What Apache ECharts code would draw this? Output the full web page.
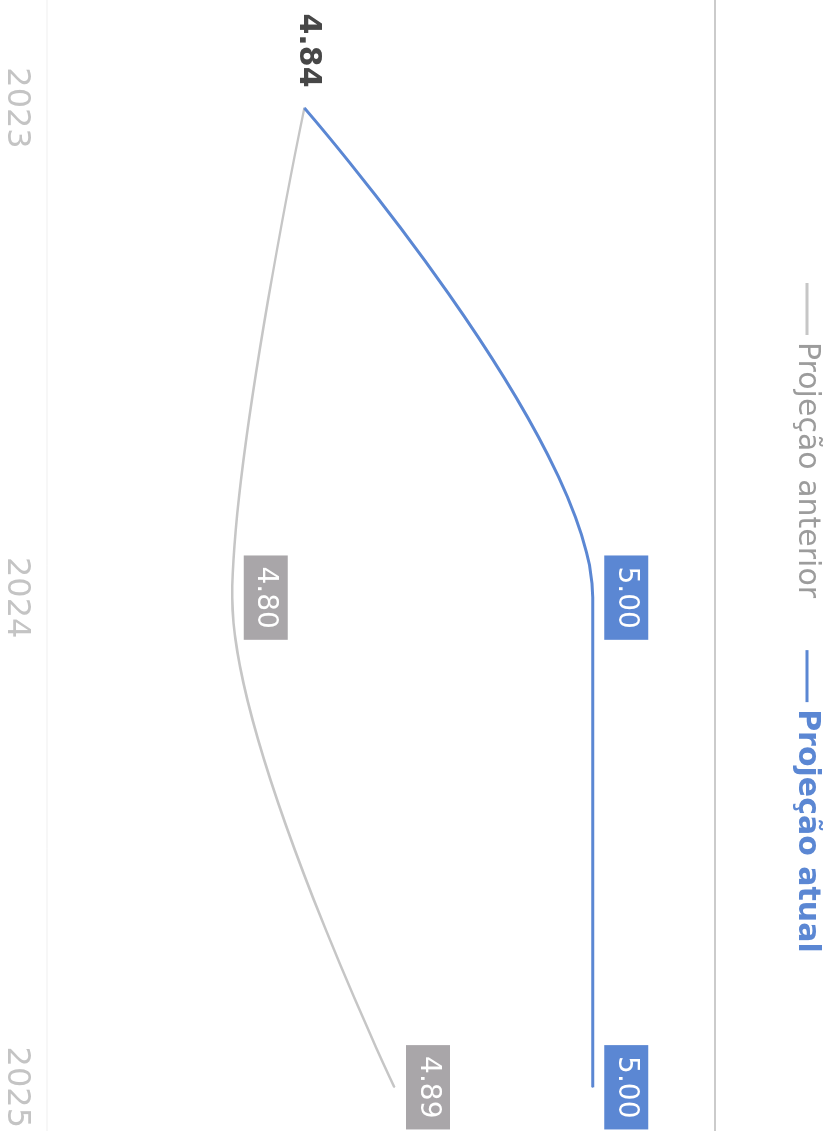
<!DOCTYPE html>
<html lang="pt">
<head>
  <meta charset="UTF-8">
  <title>Projeção</title>
  <script src="https://cdn.jsdelivr.net/npm/echarts@6/dist/echarts.min.js"></script>
  <style>
    html, body {
      margin: 0;
      padding: 0;
      width: 835px;
      height: 1131px;
      overflow: hidden;
      background: #fff;
    }
    /* o gráfico é desenhado deitado e depois girado 90° no sentido horário */
    #chart {
      position: absolute;
      top: 0;
      left: 0;
      width: 1131px;
      height: 835px;
      transform-origin: 0 0;
      transform: translateX(835px) rotate(90deg);
    }
  </style>
</head>
<body>
  <div id="chart"></div>

  <script>
    const anos = ['2023', '2024', '2025'];
    const projecaoAnterior = [4.84, 4.80, 4.89];
    const projecaoAtual = [4.84, 5.00, 5.00];

    const AZUL = '#5b87d3';
    const CINZA = '#c6c6c6';
    const CINZA_CAIXA = '#a9a6a9';

    const chart = echarts.init(document.getElementById('chart'), null, { width: 1131, height: 835 });

    const rotuloCaixa = cor => ({
      show: true,
      position: 'top',
      distance: 11,
      backgroundColor: cor,
      color: '#fff',
      fontSize: 28,
      lineHeight: 32,
      padding: [6, 11],
      formatter: p => p.value.toFixed(2)
    });

    chart.setOption({
      backgroundColor: '#fff',
      textStyle: { fontFamily: '"DejaVu Sans", sans-serif' },
      animation: false,
      legend: {
        left: 283,
        top: 13,
        padding: 0,
        icon: 'rect',
        itemWidth: 52,
        itemHeight: 3,
        itemGap: 52,
        textStyle: { fontSize: 30, padding: [0, 0, 0, 2] },
        data: [
          { name: 'Projeção anterior', itemStyle: { color: CINZA }, textStyle: { color: '#9c9c9c' } },
          { name: 'Projeção atual', itemStyle: { color: AZUL }, textStyle: { color: AZUL, fontWeight: 'bold' } }
        ]
      },
      graphic: [
        { type: 'line', shape: { x1: 0, y1: 120, x2: 1131, y2: 120 }, style: { stroke: '#cbcbcb', lineWidth: 2 } },
        { type: 'line', shape: { x1: 0, y1: 788, x2: 1131, y2: 788 }, style: { stroke: '#efefef', lineWidth: 1 } }
      ],
      grid: { left: 108, right: 36, top: 62, bottom: 47 },
      xAxis: {
        type: 'category',
        data: anos,
        boundaryGap: false,
        axisLine: { show: false },
        axisTick: { show: false },
        axisLabel: { fontSize: 32, color: '#c4c4c4', margin: 20 }
      },
      yAxis: {
        type: 'value',
        min: 4.7,
        max: 5.1,
        show: false,
        splitLine: { show: false }
      },
      series: [
        {
          name: 'Projeção anterior',
          type: 'line',
          smooth: 0.3,
          symbol: 'circle',
          symbolSize: 1,
          lineStyle: { color: CINZA, width: 2.5 },
          itemStyle: { color: CINZA },
          label: rotuloCaixa(CINZA_CAIXA),
          data: projecaoAnterior.map((v, i) => i === 0 ? {
            value: v,
            label: {
              position: 'left',
              distance: 20,
              offset: [0, -3],
              backgroundColor: 'transparent',
              color: '#474747',
              fontWeight: 'bold',
              fontSize: 30,
              padding: 0
            }
          } : v)
        },
        {
          name: 'Projeção atual',
          type: 'line',
          smooth: 0.3,
          symbol: 'circle',
          symbolSize: 1,
          lineStyle: { color: AZUL, width: 3 },
          itemStyle: { color: AZUL },
          label: rotuloCaixa(AZUL),
          data: projecaoAtual.map((v, i) => i === 0 ? { value: v, label: { show: false } } : v)
        }
      ]
    });
  </script>
</body>
</html>
